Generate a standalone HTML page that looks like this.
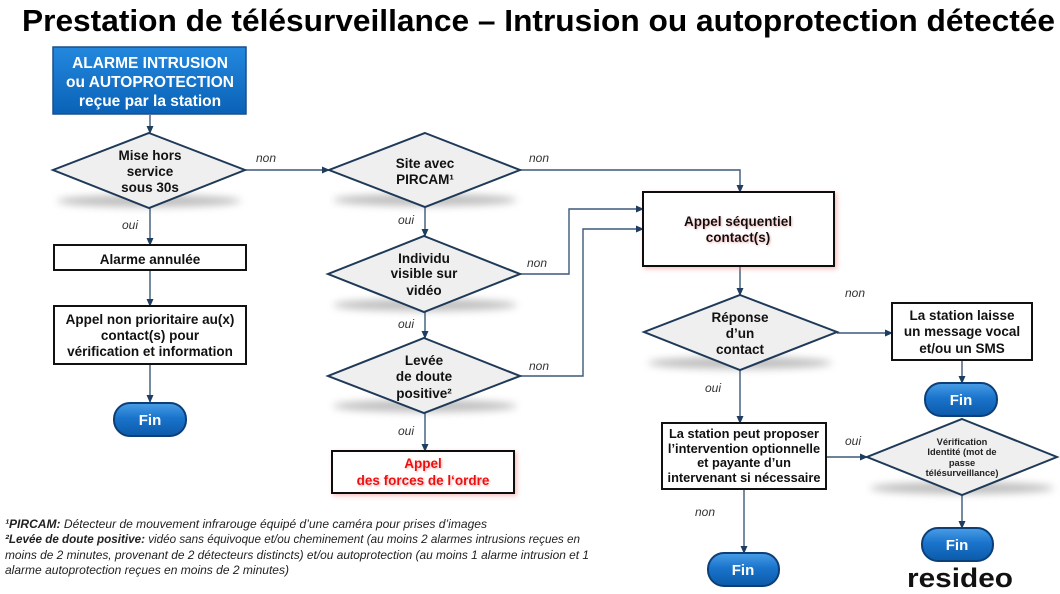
<!DOCTYPE html>
<html><head><meta charset="utf-8">
<style>
html,body{margin:0;padding:0;background:#fff;}
svg{display:block;}
text{font-family:"Liberation Sans",Arial,sans-serif;}
.b{font-weight:bold;font-size:13.5px;fill:#111;}
.lbl{font-style:italic;font-size:12px;fill:#333;}
.ln{stroke:#3b5878;stroke-width:1.4;fill:none;}
.fin{font-weight:bold;font-size:15px;fill:#fff;}
.fn{font-style:italic;font-size:12px;fill:#222;}
</style></head>
<body>
<svg width="1060" height="594" viewBox="0 0 1060 594" xmlns="http://www.w3.org/2000/svg">
<defs>
<marker id="ah" markerWidth="8" markerHeight="8" refX="7" refY="4" orient="auto" markerUnits="userSpaceOnUse">
<path d="M0,0.5 L8,4 L0,7.5 Z" fill="#1f3d5e"/>
</marker>
<linearGradient id="gBlue" x1="0" y1="0" x2="0" y2="1">
<stop offset="0" stop-color="#2388de"/><stop offset="1" stop-color="#0a62b6"/>
</linearGradient>
<linearGradient id="gFin" x1="0" y1="0" x2="0" y2="1">
<stop offset="0" stop-color="#4a9ee6"/><stop offset="0.45" stop-color="#1a74cc"/><stop offset="1" stop-color="#0b5aa8"/>
</linearGradient>
<filter id="blur" x="-20%" y="-100%" width="140%" height="300%"><feGaussianBlur stdDeviation="4"/></filter>
<filter id="glow" x="-10%" y="-20%" width="120%" height="140%"><feDropShadow dx="2" dy="2" stdDeviation="2.5" flood-color="#f07070" flood-opacity="0.45"/></filter>
<filter id="tglow" x="-10%" y="-20%" width="120%" height="140%"><feDropShadow dx="1" dy="1" stdDeviation="1" flood-color="#e08080" flood-opacity="0.6"/></filter>
</defs>

<!-- Title -->
<text x="22" y="31" font-size="31" font-weight="bold" fill="#000" textLength="1033" lengthAdjust="spacingAndGlyphs">Prestation de télésurveillance – Intrusion ou autoprotection détectée</text>

<!-- diamond shadows -->
<g fill="#8a8a8a" opacity="0.55" filter="url(#blur)">
<ellipse cx="149" cy="201" rx="92" ry="6"/>
<ellipse cx="425" cy="200" rx="92" ry="6"/>
<ellipse cx="425" cy="305" rx="92" ry="6"/>
<ellipse cx="425" cy="406" rx="92" ry="6"/>
<ellipse cx="740" cy="363" rx="92" ry="6"/>
<ellipse cx="962" cy="488" rx="92" ry="6"/>
</g>

<!-- connectors -->
<g class="ln">
<line x1="150" y1="115" x2="150" y2="133" marker-end="url(#ah)"/>
<line x1="245" y1="170" x2="329" y2="170" marker-end="url(#ah)"/>
<line x1="150" y1="208" x2="150" y2="245" marker-end="url(#ah)"/>
<line x1="150" y1="270" x2="150" y2="306" marker-end="url(#ah)"/>
<line x1="150" y1="364" x2="150" y2="402" marker-end="url(#ah)"/>
<polyline points="520,170 740,170 740,192" marker-end="url(#ah)"/>
<line x1="425" y1="207" x2="425" y2="236" marker-end="url(#ah)"/>
<polyline points="520,274 569,274 569,209 643,209" marker-end="url(#ah)"/>
<line x1="425" y1="312" x2="425" y2="338" marker-end="url(#ah)"/>
<polyline points="520,376 583,376 583,229 643,229" marker-end="url(#ah)"/>
<line x1="425" y1="413" x2="425" y2="451" marker-end="url(#ah)"/>
<line x1="740" y1="266" x2="740" y2="295" marker-end="url(#ah)"/>
<line x1="837" y1="333" x2="892" y2="333" marker-end="url(#ah)"/>
<line x1="962" y1="360" x2="962" y2="383" marker-end="url(#ah)"/>
<line x1="740" y1="370" x2="740" y2="423" marker-end="url(#ah)"/>
<line x1="826" y1="457" x2="867" y2="457" marker-end="url(#ah)"/>
<line x1="962" y1="495" x2="962" y2="528" marker-end="url(#ah)"/>
<line x1="744" y1="489" x2="744" y2="553" marker-end="url(#ah)"/>
</g>

<!-- Start box -->
<rect x="53" y="47" width="193" height="67" fill="url(#gBlue)" stroke="#1b4f8a" stroke-width="1.5"/>
<g font-weight="bold" font-size="15.5" fill="#fff" text-anchor="middle">
<text x="150" y="68">ALARME INTRUSION</text>
<text x="150" y="87">ou AUTOPROTECTION</text>
<text x="150" y="106">reçue par la station</text>
</g>

<!-- Diamonds -->
<g fill="#efefef" stroke="#1e3a58" stroke-width="2">
<polygon points="149,133 245,170 149,208 53,170"/>
<polygon points="425,133 520,170 425,207 329,170"/>
<polygon points="424,236 520,274 424,312 328,274"/>
<polygon points="424,338 520,376 424,413 328,376"/>
<polygon points="740,295 837,332 740,370 644,332"/>
<polygon points="962,419 1057,457 962,495 867,457"/>
</g>

<g class="b" text-anchor="middle">
<text x="150" y="160">Mise hors</text>
<text x="150" y="176">service</text>
<text x="150" y="192">sous 30s</text>

<text x="425" y="168">Site avec</text>
<text x="425" y="184">PIRCAM¹</text>

<text x="424" y="263">Individu</text>
<text x="424" y="278">visible sur</text>
<text x="424" y="295">vidéo</text>

<text x="424" y="365">Levée</text>
<text x="424" y="381">de doute</text>
<text x="424" y="398">positive²</text>

<text x="740" y="322">Réponse</text>
<text x="740" y="338">d’un</text>
<text x="740" y="354">contact</text>
</g>
<g font-weight="bold" font-size="9.3" fill="#222" text-anchor="middle">
<text x="962" y="445">Vérification</text>
<text x="962" y="455">Identité (mot de</text>
<text x="962" y="466">passe</text>
<text x="962" y="476">télésurveillance)</text>
</g>

<!-- Rect boxes -->
<g fill="#fff" stroke="#111" stroke-width="2">
<rect x="54" y="245" width="192" height="25"/>
<rect x="54" y="306" width="192" height="58"/>
<rect x="332" y="451" width="182" height="42" filter="url(#glow)"/>
<rect x="643" y="192" width="191" height="74" filter="url(#glow)"/>
<rect x="892" y="303" width="140" height="57"/>
<rect x="662" y="423" width="164" height="66"/>
</g>

<g class="b" text-anchor="middle">
<text x="150" y="264">Alarme annulée</text>
<text x="150" y="324">Appel non prioritaire au(x)</text>
<text x="150" y="340">contact(s) pour</text>
<text x="150" y="356">vérification et information</text>
<text x="962" y="320">La station laisse</text>
<text x="962" y="336">un message vocal</text>
<text x="962" y="353">et/ou un SMS</text>
</g>
<g class="b" text-anchor="middle" filter="url(#tglow)">
<text x="738" y="226">Appel séquentiel</text>
<text x="738" y="242">contact(s)</text>
</g>
<g font-weight="bold" font-size="13.5" fill="#ee1111" text-anchor="middle" filter="url(#tglow)">
<text x="423" y="468">Appel</text>
<text x="423" y="485">des forces de l‘ordre</text>
</g>
<g font-weight="bold" font-size="12.8" fill="#111" text-anchor="middle">
<text x="744" y="438">La station peut proposer</text>
<text x="744" y="453">l’intervention optionnelle</text>
<text x="744" y="467">et payante d’un</text>
<text x="744" y="482">intervenant si nécessaire</text>
</g>

<!-- Fin buttons -->
<g fill="url(#gFin)" stroke="#0c3f78" stroke-width="2">
<rect x="114" y="403" width="72" height="33" rx="16" ry="16"/>
<rect x="925" y="383" width="72" height="33" rx="16" ry="16"/>
<rect x="922" y="528" width="71" height="33" rx="16" ry="16"/>
<rect x="708" y="553" width="71" height="33" rx="16" ry="16"/>
</g>
<g class="fin" text-anchor="middle">
<text x="150" y="425">Fin</text>
<text x="961" y="405">Fin</text>
<text x="957" y="550">Fin</text>
<text x="743" y="575">Fin</text>
</g>

<!-- labels -->
<g class="lbl">
<text x="256" y="162">non</text>
<text x="529" y="162">non</text>
<text x="122" y="229">oui</text>
<text x="398" y="224">oui</text>
<text x="527" y="267">non</text>
<text x="398" y="328">oui</text>
<text x="529" y="370">non</text>
<text x="398" y="435">oui</text>
<text x="845" y="297">non</text>
<text x="705" y="392">oui</text>
<text x="845" y="445">oui</text>
<text x="695" y="516">non</text>
</g>

<!-- resideo logo -->
<text x="907" y="587" font-size="27" font-weight="bold" fill="#111" textLength="106" lengthAdjust="spacingAndGlyphs">resideo</text>

<!-- footnotes -->
<g class="fn">
<text x="5" y="528" textLength="482" lengthAdjust="spacingAndGlyphs"><tspan font-weight="bold">¹PIRCAM:</tspan> Détecteur de mouvement infrarouge équipé d’une caméra pour prises d’images</text>
<text x="5" y="543" textLength="575" lengthAdjust="spacingAndGlyphs"><tspan font-weight="bold">²Levée de doute positive:</tspan> vidéo sans équivoque et/ou cheminement (au moins 2 alarmes intrusions reçues en</text>
<text x="5" y="559" textLength="584" lengthAdjust="spacingAndGlyphs">moins de 2 minutes, provenant de 2 détecteurs distincts) et/ou autoprotection (au moins 1 alarme intrusion et 1</text>
<text x="5" y="574" textLength="284" lengthAdjust="spacingAndGlyphs">alarme autoprotection reçues en moins de 2 minutes)</text>
</g>
</svg>
</body></html>
